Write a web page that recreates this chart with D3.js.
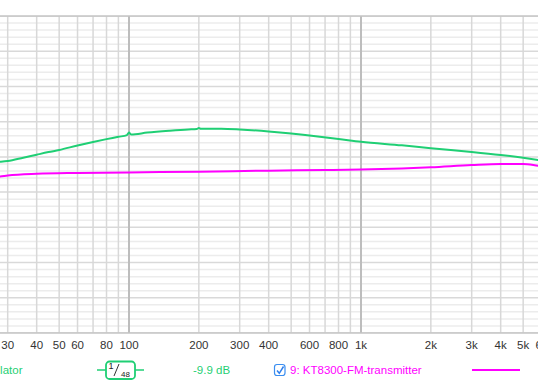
<!DOCTYPE html>
<html>
<head>
<meta charset="utf-8">
<script src="https://cdn.jsdelivr.net/npm/d3@7"></script>
<style>
  body { margin: 0; background: #fff; }
  svg { display: block; font-family: "Liberation Sans", Arial, sans-serif; }
</style>
</head>
<body>
<svg id="svg1" width="538" height="382"></svg>
<script>
// frequency response readings (Hz, dB)
var greenFreq = [25, 27.8, 30, 35, 40, 45, 50, 60, 70, 80, 90, 98, 100, 102, 120, 150, 180, 196, 200, 204, 250, 300, 400, 500, 600, 800, 1000, 1500, 2000, 3000, 4000, 5000, 6000, 7000];
var greenDb   = [69.2, 69.3, 69.41, 69.88, 70.31, 70.68, 70.98, 71.62, 72.12, 72.52, 72.85, 73.1, 73.45, 73.18, 73.45, 73.72, 73.9, 73.96, 74.1, 73.98, 74.0, 73.9, 73.62, 73.32, 73.02, 72.55, 72.15, 71.64, 71.22, 70.7, 70.27, 69.87, 69.49, 69.1];

var pinkFreq = [25, 27.8, 30, 40, 60, 100, 200, 400, 700, 1000, 1500, 2000, 3000, 4000, 5000, 5800, 7000];
var pinkDb   = [67.1, 67.2, 67.35, 67.6, 67.72, 67.8, 67.9, 68.05, 68.13, 68.2, 68.35, 68.52, 68.85, 69.0, 69.0, 68.75, 68.4];

var tickFreqs  = [30, 40, 50, 60, 80, 100, 200, 300, 400, 600, 800, 1000, 2000, 3000, 4000, 5000, 6000];
var tickLabels = ['30', '40', '50', '60', '80', '100', '200', '300', '400', '600', '800', '1k', '2k', '3k', '4k', '5k', '6k'];

var greenName = 'Oscillator';
var pinkName = '9: KT8300-FM-transmitter';
var smoothText = '-9.9 dB';

var green = '#1fcf74';
var pink = '#ff00ff';

var width = 538, height = 382;
var plotTop = 16, plotBottom = 333;
var decade = 232;

var svg = d3.select('#svg1');

// log frequency axis, 100 Hz sits at x=129, 1 kHz at x=361
var scaleX = d3.scaleLog().domain([10, 100000])
    .range([129 - decade, 129 + 3 * decade]);
var scaleY = d3.scaleLinear().domain([45, 90]).range([plotBottom, plotTop]);

svg.append('clipPath').attr('id', 'plotclip')
  .append('rect').attr('x', 0).attr('y', plotTop).attr('width', width).attr('height', plotBottom - plotTop);

var grid = svg.append('g').attr('clip-path', 'url(#plotclip)');

// horizontal grid: minor each dB, major each 5 dB
var dbTicks = d3.range(45, 91, 1);
grid.selectAll('.hline')
  .data(dbTicks)
  .enter().append('line')
  .attr('x1', 0).attr('x2', width)
  .attr('y1', function(d) { return scaleY(d); })
  .attr('y2', function(d) { return scaleY(d); })
  .attr('stroke', function(d) { return d % 5 === 0 ? '#d9d9d9' : '#ececec'; })
  .attr('stroke-width', 1.5);

// vertical grid: 1..9 per decade
var vTicks = [];
[10, 100, 1000, 10000].forEach(function(dec) {
  for (var m = 1; m < 10; m++) vTicks.push(dec * m);
});
grid.selectAll('.vline')
  .data(vTicks)
  .enter().append('line')
  .attr('x1', function(d) { return scaleX(d); })
  .attr('x2', function(d) { return scaleX(d); })
  .attr('y1', plotTop).attr('y2', plotBottom)
  .attr('stroke', function(d) { return String(d).match(/^10+$/) ? '#bdbdbd' : '#d8d8d8'; })
  .attr('stroke-width', function(d) { return String(d).match(/^10+$/) ? 2 : 1.5; });

// frame top / bottom
svg.append('line').attr('x1', 0).attr('x2', width).attr('y1', plotTop).attr('y2', plotTop)
  .attr('stroke', '#c4c4c4').attr('stroke-width', 1.5);
svg.append('line').attr('x1', 0).attr('x2', width).attr('y1', plotBottom).attr('y2', plotBottom)
  .attr('stroke', '#c4c4c4').attr('stroke-width', 1.5);

// curves
var line = d3.line()
  .x(function(d) { return scaleX(d[0]); })
  .y(function(d) { return scaleY(d[1]); })
  .curve(d3.curveMonotoneX);

var curves = svg.append('g').attr('clip-path', 'url(#plotclip)');
curves.append('path')
  .datum(d3.zip(pinkFreq, pinkDb))
  .attr('d', line)
  .attr('fill', 'none')
  .attr('stroke', pink)
  .attr('stroke-width', 2);
curves.append('path')
  .datum(d3.zip(greenFreq, greenDb))
  .attr('d', line)
  .attr('fill', 'none')
  .attr('stroke', green)
  .attr('stroke-width', 2);

// x tick labels
svg.selectAll('.tickLabel')
  .data(tickFreqs)
  .enter().append('text')
  .attr('class', 'tickLabel')
  .attr('x', function(d) { return scaleX(d); })
  .attr('y', 349)
  .attr('text-anchor', 'middle')
  .attr('font-size', 11.5)
  .attr('fill', '#333')
  .text(function(d, i) { return tickLabels[i]; });

// legend row
var ly = 370;
svg.append('text')
  .attr('x', 22.5).attr('y', ly + 4)
  .attr('text-anchor', 'end')
  .attr('font-size', 11.5)
  .attr('fill', green)
  .text(greenName);

// smoothing widget
var sm = svg.append('g');
sm.append('line').attr('x1', 97).attr('x2', 144).attr('y1', ly).attr('y2', ly)
  .attr('stroke', green).attr('stroke-width', 1.5);
sm.append('rect').attr('x', 106).attr('y', 361.5).attr('width', 29).attr('height', 17.5)
  .attr('rx', 3.5).attr('fill', '#fff').attr('stroke', green).attr('stroke-width', 1.8);
sm.append('text').attr('x', 108.5).attr('y', 369).attr('font-size', 9).attr('fill', '#222').text('1');
sm.append('line').attr('x1', 114).attr('x2', 119).attr('y1', 376).attr('y2', 364)
  .attr('stroke', '#333').attr('stroke-width', 1);
sm.append('text').attr('x', 121).attr('y', 377).attr('font-size', 8).attr('fill', '#222').text('48');

svg.append('text')
  .attr('x', 193).attr('y', ly + 4)
  .attr('font-size', 11.5)
  .attr('fill', green)
  .text(smoothText);

// checkbox
var cb = svg.append('g');
cb.append('rect').attr('x', 274.5).attr('y', 364.5).attr('width', 10.5).attr('height', 11)
  .attr('rx', 2.5).attr('fill', '#fff').attr('stroke', '#3a8ef0').attr('stroke-width', 1.2);
cb.append('path').attr('d', 'M277,370.5 L279.3,373.3 L283.5,366.5')
  .attr('fill', 'none').attr('stroke', '#2f80ed').attr('stroke-width', 1.5);

svg.append('text')
  .attr('x', 290).attr('y', ly + 4)
  .attr('font-size', 11.5)
  .attr('fill', pink)
  .text(pinkName);

svg.append('line').attr('x1', 472).attr('x2', 520).attr('y1', ly).attr('y2', ly)
  .attr('stroke', pink).attr('stroke-width', 2);
</script>
</body>
</html>
